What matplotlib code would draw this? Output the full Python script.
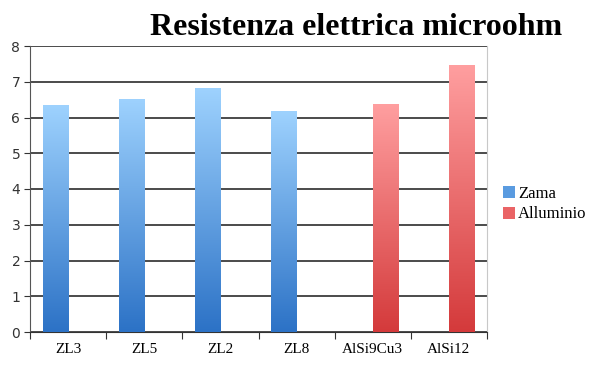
import numpy as np
import matplotlib.pyplot as plt
from matplotlib.colors import LinearSegmentedColormap
from matplotlib.patches import Patch

categorie = ['ZL3', 'ZL5', 'ZL2', 'ZL8', 'AlSi9Cu3', 'AlSi12']
zama = [6.34, 6.52, 6.82, 6.18, 0, 0]
alluminio = [0, 0, 0, 0, 6.38, 7.48]

cmap_zama = LinearSegmentedColormap.from_list('zama', ['#2c72c6', '#9ed2fe'])
cmap_all = LinearSegmentedColormap.from_list('all', ['#d43a3b', '#ff9fa0'])

fig = plt.figure(figsize=(6.07, 3.86), dpi=100)
ax = fig.add_axes([30/607, 54/386, 457/607, 286/386])

x = np.arange(len(categorie))
w = 1/3

def barre_gradiente(pos, valori, cmap):
    barre = ax.bar(pos, valori, width=w, color='none', edgecolor='none', zorder=3)
    grad = np.linspace(0, 1, 256).reshape(-1, 1)
    for b in barre:
        if b.get_height() <= 0:
            continue
        x0 = b.get_x()
        im = ax.imshow(grad, cmap=cmap, origin='lower', aspect='auto',
                       extent=[x0, x0 + b.get_width(), 0, b.get_height()], zorder=3)
        im.set_clip_path(b)
    return barre

barre_gradiente(x - w/2, zama, cmap_zama)
barre_gradiente(x + w/2, alluminio, cmap_all)

ax.set_xlim(-0.5, len(categorie) - 0.5)
ax.set_ylim(0, 8)
ax.set_yticks(range(0, 9))
ax.grid(axis='y', color='#1a1a1a', linewidth=1.1, zorder=1)
ax.set_axisbelow(True)

ax.set_xticks(np.arange(-0.5, len(categorie), 1))
ax.set_xticklabels([])
ax.set_xticks(x, minor=True)
ax.set_xticklabels(categorie, minor=True, fontfamily='Liberation Serif', fontsize=11)
ax.tick_params(axis='x', which='major', length=5, direction='out', color='#333')
ax.tick_params(axis='x', which='minor', length=0, pad=8)
ax.tick_params(axis='y', length=4, color='#333', labelsize=10, labelcolor='#333', pad=3)

ax.spines['top'].set_visible(False)
ax.spines['right'].set_color('#c8c8c8')
ax.spines['left'].set_color('#555555')
ax.spines['bottom'].set_color('#333333')

fig.text(356/607, 1 - 35/386, 'Resistenza elettrica microohm', ha='center', va='baseline',
         fontfamily='Liberation Serif', fontweight='bold', fontsize=23)

legenda = [Patch(facecolor='#5a9be0', label='Zama'),
           Patch(facecolor='#ea6466', label='Alluminio')]
fig.legend(handles=legenda, loc='center left', bbox_to_anchor=(503/607, 1 - 204/386),
           frameon=False, prop={'family': 'Liberation Serif', 'size': 12},
           handlelength=0.7, handleheight=0.7, handletextpad=0.2, labelspacing=0.3,
           borderpad=0, borderaxespad=0)

fig.savefig('out.png', dpi=100)
